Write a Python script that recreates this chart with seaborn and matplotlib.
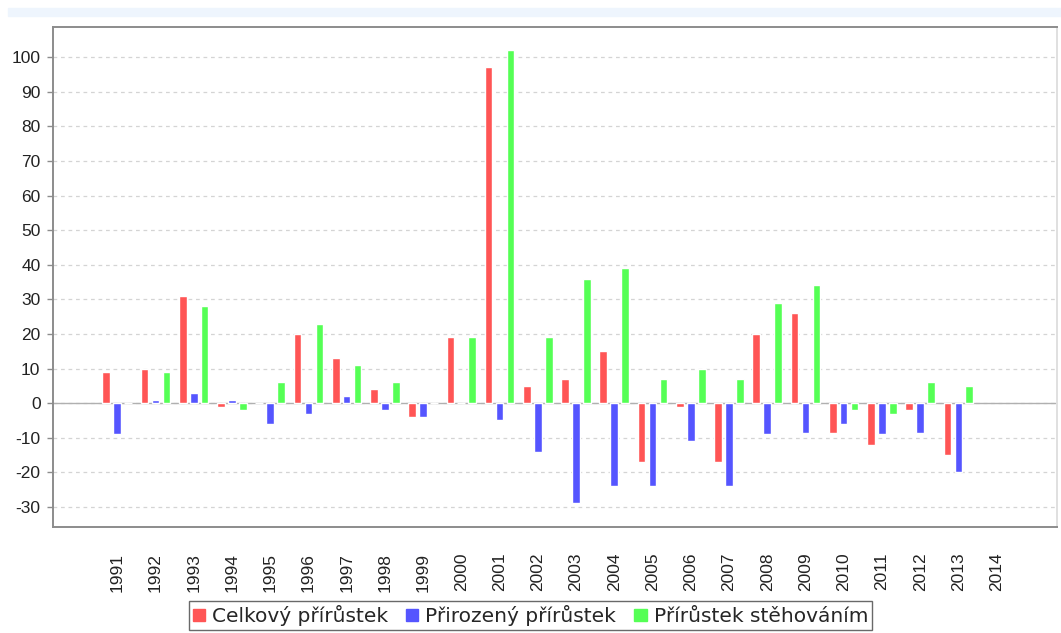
import matplotlib
matplotlib.use("Agg")
import matplotlib.pyplot as plt
import matplotlib.patches as mpatches
import seaborn as sns
import pandas as pd
import numpy as np

years = [str(y) for y in range(1991, 2015)]
celkovy = [9, 10, 31, -1, 0, 20, 13, 4, -4, 19, 97, 5, 7, 15, -17, -1, -17, 20, 26, -8.5, -12, -2, -15, np.nan]
prirozeny = [-9, 1, 3, 1, -6, -3, 2, -2, -4, 0, -5, -14, -29, -24, -24, -11, -24, -9, -8.5, -6, -9, -8.5, -20, np.nan]
stehovanim = [0, 9, 28, -2, 6, 23, 11, 6, 0, 19, 102, 19, 36, 39, 7, 10, 7, 29, 34, -2, -3, 6, 5, np.nan]

series_names = ["Celkový přírůstek", "Přirozený přírůstek", "Přírůstek stěhováním"]
colors = ["#ff5555", "#5555ff", "#55ff55"]

rows = []
for name, vals in zip(series_names, [celkovy, prirozeny, stehovanim]):
    for y, v in zip(years, vals):
        rows.append({"rok": y, "hodnota": v, "ukazatel": name})
df = pd.DataFrame(rows)

sns.set_style("white")
plt.rcParams['font.family'] = ['Liberation Sans', 'DejaVu Sans']
plt.rcParams['axes.unicode_minus'] = False

fig = plt.figure(figsize=(10.61, 6.33), dpi=100)
ax = fig.add_axes([53 / 1061, 1 - 527 / 633, (1057 - 53) / 1061, 500 / 633])

# light strip at the top of the image
fig.patches.append(mpatches.Rectangle((8 / 1061, 1 - 16 / 633), 1, 8 / 633,
                                      transform=fig.transFigure, color="#eef5fd", zorder=0))

sns.barplot(data=df, x="rok", y="hodnota", hue="ukazatel", order=years,
            hue_order=series_names, palette=colors, width=0.86, gap=0.3,
            errorbar=None, saturation=1, ax=ax, zorder=3)

ax.set_xlim(-1.68, 24.58)
ax.set_ylim(-35.8, 108.7)
ax.set_yticks(range(-30, 101, 10))
ax.set_xlabel("")
ax.set_ylabel("")

ax.yaxis.grid(True, linestyle=(0, (3, 3)), color="#d4d4d4", linewidth=0.9)
ax.set_axisbelow(True)
ax.axhline(0, color="#b0b0b0", linewidth=1.0, zorder=2)

for side in ["top", "bottom", "left", "right"]:
    ax.spines[side].set_color("#8c8c8c")
    ax.spines[side].set_linewidth(1.4)
ax.spines["right"].set_color("#e0e0e0")

ax.tick_params(axis="y", left=True, length=4, width=1, color="#8c8c8c",
               labelsize=12.5, pad=5, labelcolor="#222222")
ax.tick_params(axis="x", bottom=False, labelsize=12.5, pad=15,
               labelrotation=90, labelcolor="#222222")

ax.get_legend().remove()
handles = [mpatches.Patch(color=c, label=n) for c, n in zip(colors, series_names)]
fig.legend(handles=handles, loc="upper center", bbox_to_anchor=(0.5, 1 - 601 / 633),
           ncol=3, frameon=True, fancybox=False, edgecolor="#444444",
           handlelength=0.6, handleheight=0.6, handletextpad=0.35,
           columnspacing=0.9, borderpad=0.2, borderaxespad=0,
           prop={"family": "DejaVu Sans", "size": 14.5})
leg = fig.legends[0]
leg.get_frame().set_linewidth(1.0)

fig.savefig("out.png", dpi=100)
